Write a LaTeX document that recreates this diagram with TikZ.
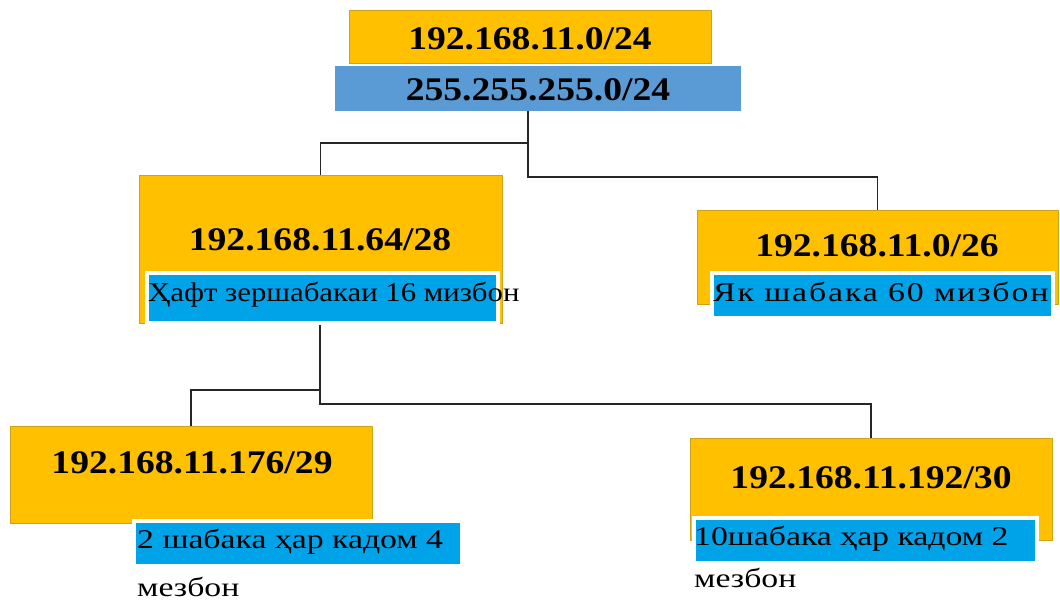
\documentclass[tikz,border=0pt]{standalone}
\usepackage{fontspec}
\setmainfont{Liberation Serif}[FakeStretch=1.14]
\newfontfamily\notefont{Liberation Serif}[FakeStretch=1.25]
\newfontfamily\spacedfont{Liberation Serif}[FakeStretch=1.25,LetterSpace=7]
\definecolor{netorange}{HTML}{FFC000}
\definecolor{netedge}{HTML}{CFA21C}
\definecolor{maskblue}{HTML}{5B9BD5}
\definecolor{hostblue}{HTML}{00A2E8}
\begin{document}
\begin{tikzpicture}[x=1pt,y=-1pt,
  netbox/.style={draw=netedge, line width=0.8pt, fill=netorange, inner sep=0pt},
  maskbox/.style={fill=maskblue, inner sep=0pt},
  hostbox/.style={fill=hostblue, draw=white, line width=4.5pt, inner sep=0pt},
  iptext/.style={font=\fontsize{33}{36}\selectfont\bfseries, inner sep=0pt},
  hosttext/.style={font=\fontsize{27}{30}\selectfont, inner sep=0pt, anchor=base west},
  widetext/.style={hosttext, font=\fontsize{27}{30}\notefont},
  link/.style={draw=black!85, line width=1.4pt}]
\useasboundingbox (0,0) rectangle (1060,601);

% root network and its mask
\node[netbox, minimum width=362pt, minimum height=53pt] (root) at (530,36.5) {};
\node[iptext] (roottext) at (530,39) {192.168.11.0/24};
\node[maskbox, minimum width=406pt, minimum height=45pt] (mask) at (538,88.5) {};
\node[iptext] (masktext) at (538,90) {255.255.255.0/24};

% second level
\node[netbox, minimum width=363pt, minimum height=148pt] (sevennet) at (320.5,249) {};
\node[iptext] (seventext) at (320,240) {192.168.11.64/28};
\node[hostbox, minimum width=351pt, minimum height=50pt] (sevenhost) at (322.5,298) {};
\node[hosttext] (sevennote) at (148,302) {Ҳафт зершабакаи 16 мизбон};

\node[netbox, minimum width=361pt, minimum height=94pt] (onenet) at (877.5,257) {};
\node[iptext] (onetext) at (877,246) {192.168.11.0/26};
\node[hostbox, minimum width=341pt, minimum height=45pt] (onehost) at (882.5,295.5) {};
\node[hosttext, font=\fontsize{27}{30}\spacedfont] (onenote) at (713,302) {Як шабака 60 мизбон};

% third level
\node[netbox, minimum width=362pt, minimum height=97pt] (twonet) at (191,474.5) {};
\node[iptext] (twotext) at (192,463) {192.168.11.176/29};
\node[hostbox, minimum width=328pt, minimum height=45pt] (twohost) at (298,543.5) {};
\node[widetext] (twonote) at (137,548) {2 шабака ҳар кадом 4};
\node[widetext] (twonote2) at (137,596) {мезбон};

\node[netbox, minimum width=362pt, minimum height=102pt] (tennet) at (871,489) {};
\node[iptext] (tentext) at (871,478) {192.168.11.192/30};
\node[hostbox, minimum width=343pt, minimum height=45pt] (tenhost) at (865.5,540.5) {};
\node[widetext] (tennote) at (694,545) {10шабака ҳар кадом 2};
\node[widetext] (tennote2) at (694,587) {мезбон};

% junctions of the tree
\coordinate (ja) at (528,143);
\coordinate (jb) at (528,177);
\coordinate (jc) at (320,390);
\coordinate (jd) at (320,404);

% connectors
\draw[link] (mask.south -| ja) -- (jb) -| (onenet.north);
\draw[link] (ja) -| (sevennet.north);
\draw[link] (sevenhost.south -| jc) -- (jd) -| (tennet.north);
\draw[link] (jc) -| (twonet.north);
\end{tikzpicture}
\end{document}
